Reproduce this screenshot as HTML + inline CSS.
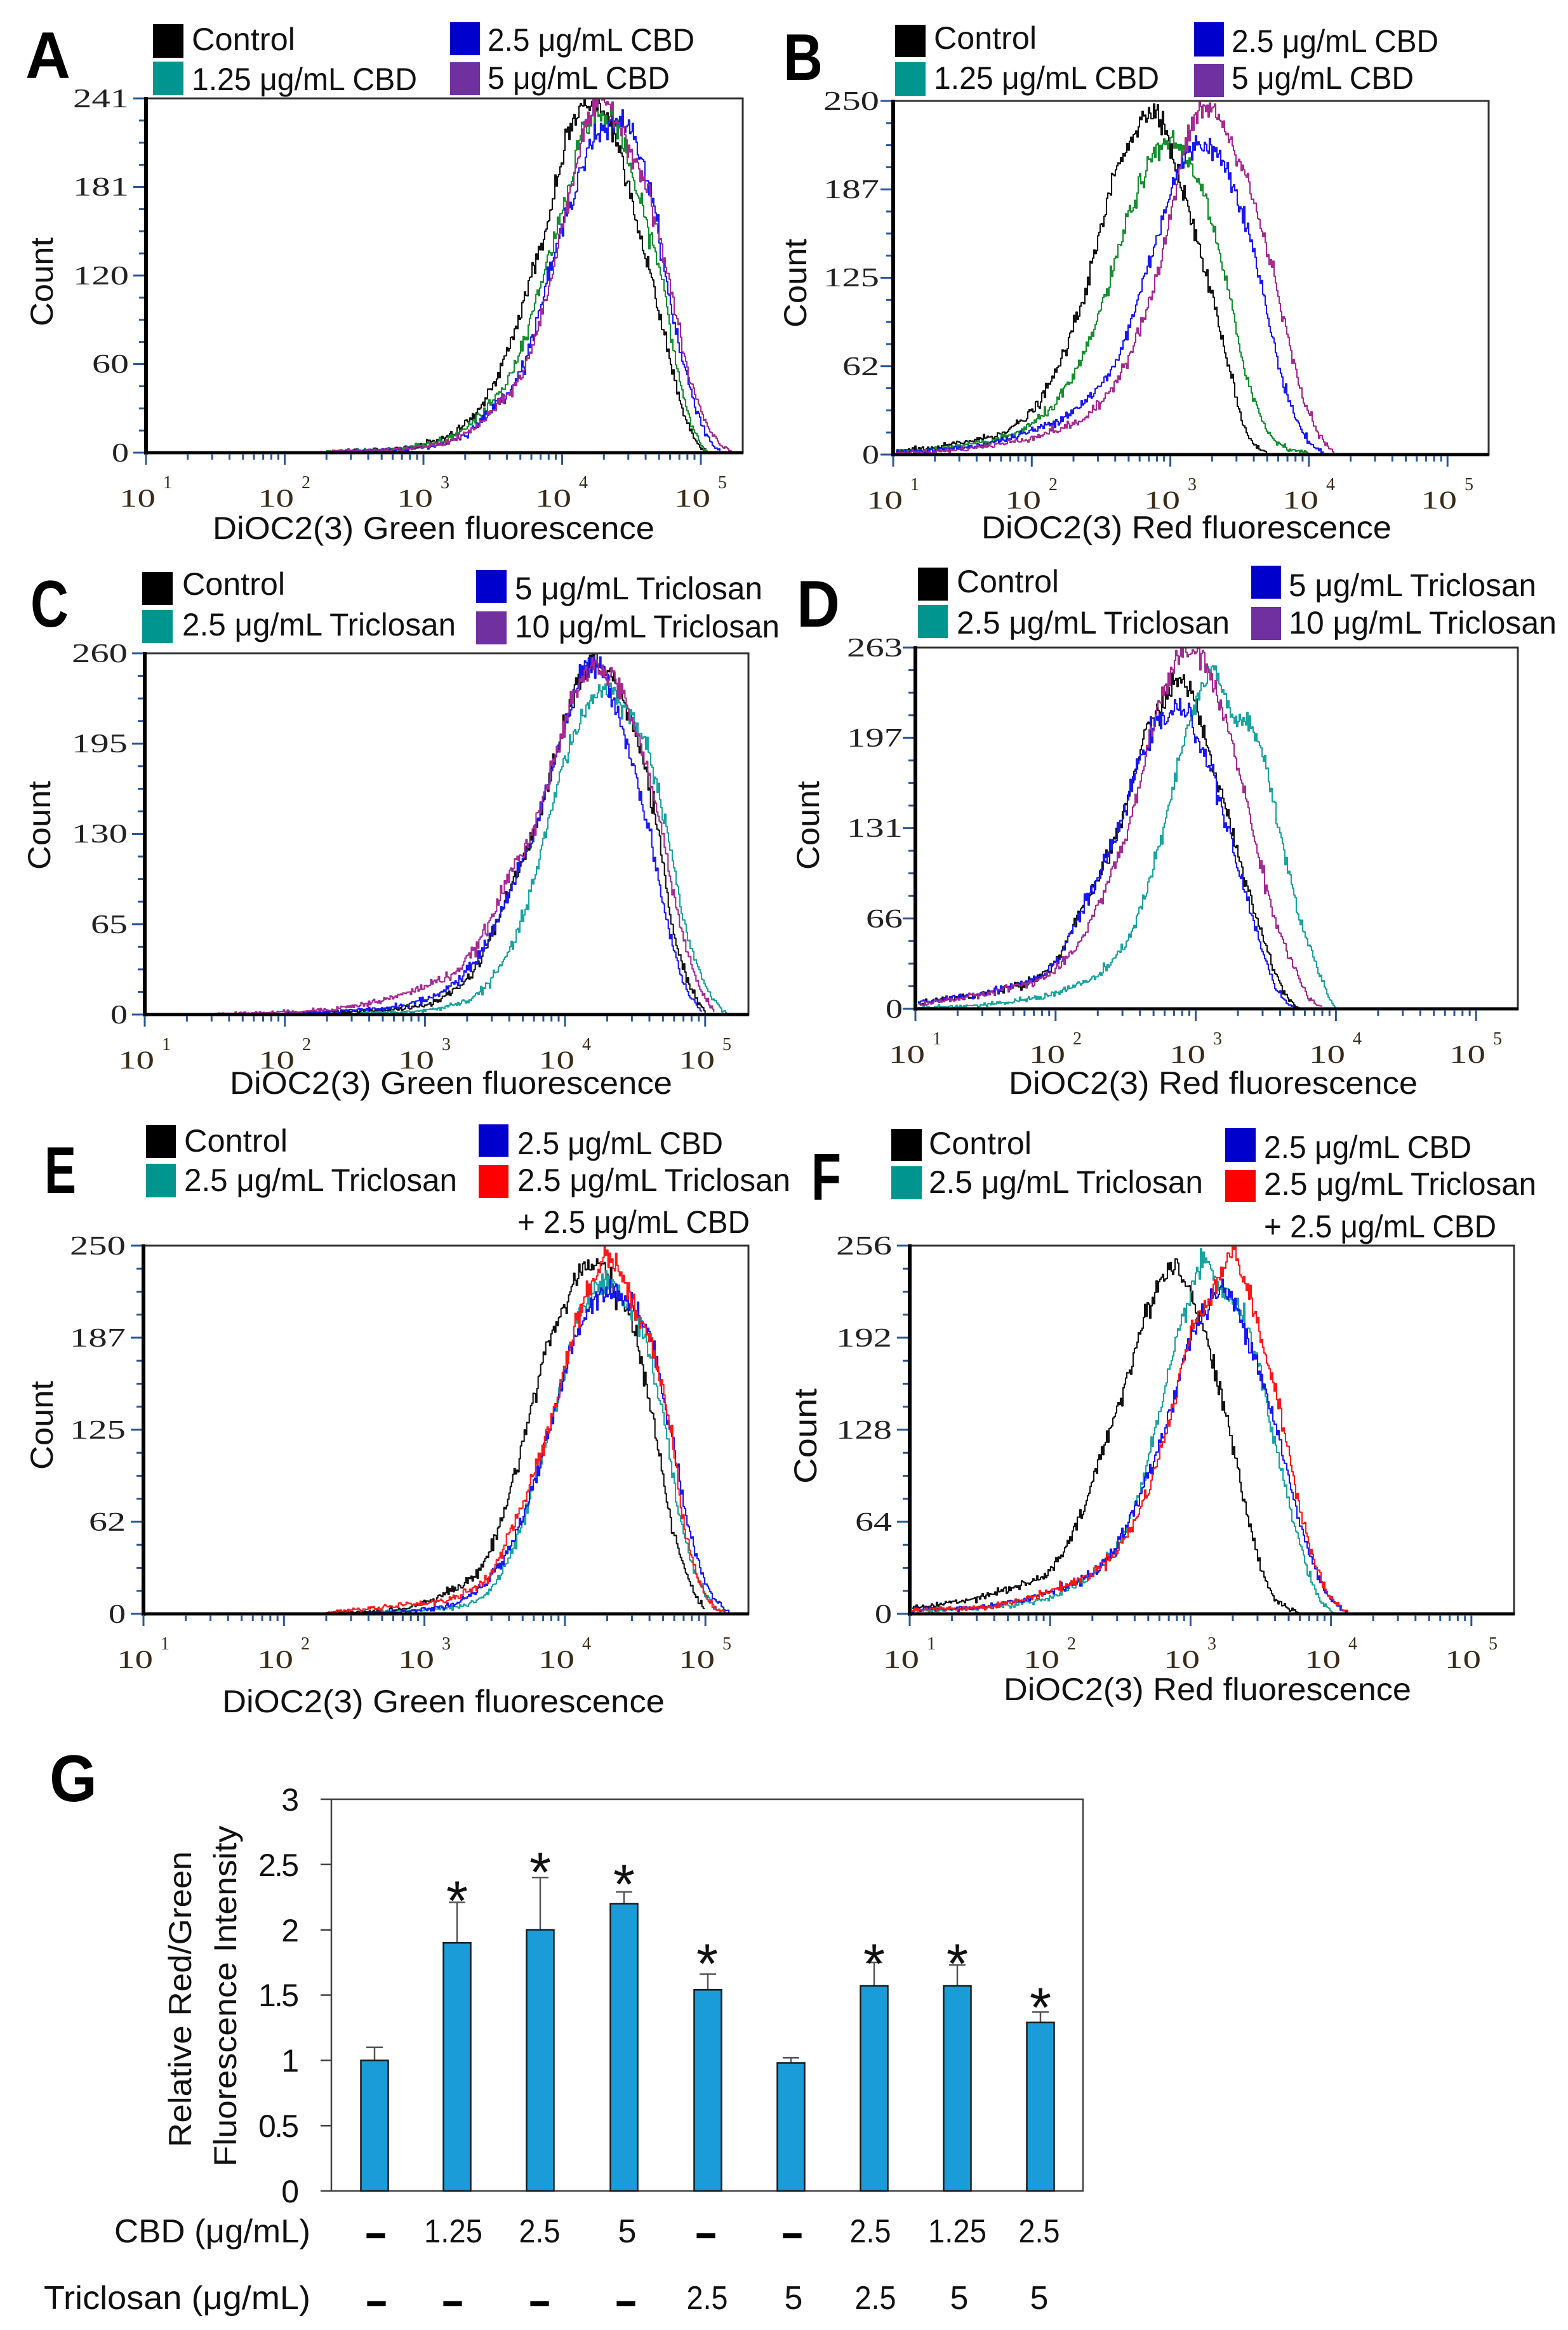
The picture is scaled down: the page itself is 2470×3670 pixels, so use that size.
<!DOCTYPE html>
<html><head><meta charset="utf-8"><style>
html,body{margin:0;padding:0;background:#fff;}
svg{display:block;}
.lg{font-family:"Liberation Sans",sans-serif;font-size:50px;fill:#111;}
.let{font-family:"Liberation Sans",sans-serif;font-size:104px;font-weight:bold;fill:#000;}
.tk{font-family:"Liberation Serif",serif;font-size:42px;fill:#222;}
.xl{font-family:"Liberation Serif",serif;font-size:40px;fill:#3a2a18;}
.sp{font-family:"Liberation Serif",serif;font-size:28px;fill:#3a2a18;}
.gt{font-family:"Liberation Sans",sans-serif;font-size:50px;fill:#111;}
.gv{font-family:"Liberation Sans",sans-serif;font-size:52px;fill:#111;}
.ds{font-family:"Liberation Sans",sans-serif;font-size:54px;font-weight:bold;fill:#000;stroke:#000;stroke-width:2.5;}
.st{font-family:"Liberation Sans",sans-serif;font-size:88px;fill:#111;}
</style></head><body>
<svg id="fig" xmlns="http://www.w3.org/2000/svg" width="2470" height="3670" viewBox="0 0 2470 3670">
<rect x="0" y="0" width="2470" height="3670" fill="#fff"/>
<g id="plots"></g>

<!-- Panel letters -->
<text class="let" x="40" y="123" textLength="71" lengthAdjust="spacingAndGlyphs">A</text>
<text class="let" x="1234" y="126" textLength="62" lengthAdjust="spacingAndGlyphs">B</text>
<text class="let" x="48" y="987" textLength="60" lengthAdjust="spacingAndGlyphs">C</text>
<text class="let" x="1255" y="987" textLength="68" lengthAdjust="spacingAndGlyphs">D</text>
<text class="let" x="70" y="1879" textLength="50" lengthAdjust="spacingAndGlyphs">E</text>
<text class="let" x="1278" y="1890" textLength="47" lengthAdjust="spacingAndGlyphs">F</text>
<text class="let" x="78" y="2837" textLength="75" lengthAdjust="spacingAndGlyphs">G</text>

<!-- Legends A -->
<rect x="241" y="38" width="48" height="53" fill="#000"/>
<rect x="241" y="97" width="48" height="53" fill="#00968f"/>
<rect x="709" y="35" width="47" height="52" fill="#0000cc"/>
<rect x="709" y="98" width="47" height="52" fill="#7030a0"/>
<text class="lg" x="302" y="79" textLength="163" lengthAdjust="spacingAndGlyphs">Control</text>
<text class="lg" x="302" y="142" textLength="355" lengthAdjust="spacingAndGlyphs">1.25 μg/mL CBD</text>
<text class="lg" x="768" y="80" textLength="326" lengthAdjust="spacingAndGlyphs">2.5 μg/mL CBD</text>
<text class="lg" x="768" y="140" textLength="287" lengthAdjust="spacingAndGlyphs">5 μg/mL CBD</text>

<!-- Legends B -->
<rect x="1410" y="39" width="48" height="51" fill="#000"/>
<rect x="1410" y="98" width="48" height="53" fill="#00968f"/>
<rect x="1881" y="35" width="47" height="54" fill="#0000cc"/>
<rect x="1881" y="101" width="47" height="52" fill="#7030a0"/>
<text class="lg" x="1471" y="77" textLength="162" lengthAdjust="spacingAndGlyphs">Control</text>
<text class="lg" x="1471" y="140" textLength="355" lengthAdjust="spacingAndGlyphs">1.25 μg/mL CBD</text>
<text class="lg" x="1940" y="82" textLength="326" lengthAdjust="spacingAndGlyphs">2.5 μg/mL CBD</text>
<text class="lg" x="1940" y="140" textLength="287" lengthAdjust="spacingAndGlyphs">5 μg/mL CBD</text>

<!-- Legends C -->
<rect x="224" y="901" width="48" height="52" fill="#000"/>
<rect x="224" y="961" width="48" height="52" fill="#00968f"/>
<rect x="750" y="898" width="48" height="52" fill="#0000cc"/>
<rect x="750" y="963" width="48" height="52" fill="#7030a0"/>
<text class="lg" x="287" y="937" textLength="162" lengthAdjust="spacingAndGlyphs">Control</text>
<text class="lg" x="287" y="1001" textLength="431" lengthAdjust="spacingAndGlyphs">2.5 μg/mL Triclosan</text>
<text class="lg" x="811" y="944" textLength="390" lengthAdjust="spacingAndGlyphs">5 μg/mL Triclosan</text>
<text class="lg" x="811" y="1004" textLength="417" lengthAdjust="spacingAndGlyphs">10 μg/mL Triclosan</text>

<!-- Legends D -->
<rect x="1446" y="894" width="47" height="52" fill="#000"/>
<rect x="1446" y="953" width="47" height="52" fill="#00968f"/>
<rect x="1971" y="891" width="47" height="52" fill="#0000cc"/>
<rect x="1971" y="956" width="47" height="52" fill="#7030a0"/>
<text class="lg" x="1507" y="933" textLength="161" lengthAdjust="spacingAndGlyphs">Control</text>
<text class="lg" x="1507" y="998" textLength="430" lengthAdjust="spacingAndGlyphs">2.5 μg/mL Triclosan</text>
<text class="lg" x="2030" y="939" textLength="390" lengthAdjust="spacingAndGlyphs">5 μg/mL Triclosan</text>
<text class="lg" x="2030" y="998" textLength="422" lengthAdjust="spacingAndGlyphs">10 μg/mL Triclosan</text>

<!-- Legends E -->
<rect x="230" y="1772" width="47" height="52" fill="#000"/>
<rect x="230" y="1833" width="47" height="53" fill="#00968f"/>
<rect x="754" y="1771" width="47" height="51" fill="#0000cc"/>
<rect x="754" y="1835" width="47" height="52" fill="#ff0000"/>
<text class="lg" x="290" y="1814" textLength="163" lengthAdjust="spacingAndGlyphs">Control</text>
<text class="lg" x="290" y="1876" textLength="430" lengthAdjust="spacingAndGlyphs">2.5 μg/mL Triclosan</text>
<text class="lg" x="815" y="1818" textLength="324" lengthAdjust="spacingAndGlyphs">2.5 μg/mL CBD</text>
<text class="lg" x="815" y="1876" textLength="430" lengthAdjust="spacingAndGlyphs">2.5 μg/mL Triclosan</text>
<text class="lg" x="815" y="1942" textLength="366" lengthAdjust="spacingAndGlyphs">+ 2.5 μg/mL CBD</text>

<!-- Legends F -->
<rect x="1404" y="1778" width="48" height="51" fill="#000"/>
<rect x="1404" y="1837" width="48" height="52" fill="#00968f"/>
<rect x="1930" y="1777" width="48" height="53" fill="#0000cc"/>
<rect x="1930" y="1843" width="48" height="50" fill="#ff0000"/>
<text class="lg" x="1463" y="1818" textLength="162" lengthAdjust="spacingAndGlyphs">Control</text>
<text class="lg" x="1463" y="1879" textLength="432" lengthAdjust="spacingAndGlyphs">2.5 μg/mL Triclosan</text>
<text class="lg" x="1991" y="1824" textLength="327" lengthAdjust="spacingAndGlyphs">2.5 μg/mL CBD</text>
<text class="lg" x="1991" y="1882" textLength="429" lengthAdjust="spacingAndGlyphs">2.5 μg/mL Triclosan</text>
<text class="lg" x="1991" y="1949" textLength="366" lengthAdjust="spacingAndGlyphs">+ 2.5 μg/mL CBD</text>

<!-- Y tick labels -->
<g class="tk" text-anchor="end">
<text x="203" y="169" textLength="88" lengthAdjust="spacingAndGlyphs">241</text><text x="203" y="308" textLength="88" lengthAdjust="spacingAndGlyphs">181</text><text x="203" y="448" textLength="88" lengthAdjust="spacingAndGlyphs">120</text><text x="203" y="587" textLength="58" lengthAdjust="spacingAndGlyphs">60</text><text x="203" y="727" textLength="27" lengthAdjust="spacingAndGlyphs">0</text>
<text x="1385" y="173" textLength="88" lengthAdjust="spacingAndGlyphs">250</text><text x="1385" y="312" textLength="88" lengthAdjust="spacingAndGlyphs">187</text><text x="1385" y="451" textLength="88" lengthAdjust="spacingAndGlyphs">125</text><text x="1385" y="591" textLength="58" lengthAdjust="spacingAndGlyphs">62</text><text x="1385" y="730" textLength="27" lengthAdjust="spacingAndGlyphs">0</text>
<text x="201" y="1043" textLength="88" lengthAdjust="spacingAndGlyphs">260</text><text x="201" y="1185" textLength="88" lengthAdjust="spacingAndGlyphs">195</text><text x="201" y="1327" textLength="88" lengthAdjust="spacingAndGlyphs">130</text><text x="201" y="1470" textLength="58" lengthAdjust="spacingAndGlyphs">65</text><text x="201" y="1612" textLength="27" lengthAdjust="spacingAndGlyphs">0</text>
<text x="1422" y="1034" textLength="88" lengthAdjust="spacingAndGlyphs">263</text><text x="1422" y="1176" textLength="88" lengthAdjust="spacingAndGlyphs">197</text><text x="1422" y="1318" textLength="88" lengthAdjust="spacingAndGlyphs">131</text><text x="1422" y="1461" textLength="58" lengthAdjust="spacingAndGlyphs">66</text><text x="1422" y="1603" textLength="27" lengthAdjust="spacingAndGlyphs">0</text>
<text x="198" y="1976" textLength="88" lengthAdjust="spacingAndGlyphs">250</text><text x="198" y="2121" textLength="88" lengthAdjust="spacingAndGlyphs">187</text><text x="198" y="2266" textLength="88" lengthAdjust="spacingAndGlyphs">125</text><text x="198" y="2411" textLength="58" lengthAdjust="spacingAndGlyphs">62</text><text x="198" y="2556" textLength="27" lengthAdjust="spacingAndGlyphs">0</text>
<text x="1405" y="1976" textLength="88" lengthAdjust="spacingAndGlyphs">256</text><text x="1405" y="2121" textLength="88" lengthAdjust="spacingAndGlyphs">192</text><text x="1405" y="2266" textLength="88" lengthAdjust="spacingAndGlyphs">128</text><text x="1405" y="2411" textLength="58" lengthAdjust="spacingAndGlyphs">64</text><text x="1405" y="2556" textLength="27" lengthAdjust="spacingAndGlyphs">0</text>
</g>

<!-- X tick labels -->
<g>
<text class="xl" x="188" y="798" textLength="57" lengthAdjust="spacingAndGlyphs">10</text><text class="sp" x="257" y="769">1</text>
<text class="xl" x="406" y="798" textLength="57" lengthAdjust="spacingAndGlyphs">10</text><text class="sp" x="475" y="769">2</text>
<text class="xl" x="625" y="798" textLength="57" lengthAdjust="spacingAndGlyphs">10</text><text class="sp" x="694" y="769">3</text>
<text class="xl" x="843" y="798" textLength="57" lengthAdjust="spacingAndGlyphs">10</text><text class="sp" x="912" y="769">4</text>
<text class="xl" x="1062" y="798" textLength="57" lengthAdjust="spacingAndGlyphs">10</text><text class="sp" x="1131" y="769">5</text>

<text class="xl" x="1365" y="801" textLength="57" lengthAdjust="spacingAndGlyphs">10</text><text class="sp" x="1434" y="772">1</text>
<text class="xl" x="1583" y="801" textLength="57" lengthAdjust="spacingAndGlyphs">10</text><text class="sp" x="1652" y="772">2</text>
<text class="xl" x="1802" y="801" textLength="57" lengthAdjust="spacingAndGlyphs">10</text><text class="sp" x="1871" y="772">3</text>
<text class="xl" x="2020" y="801" textLength="57" lengthAdjust="spacingAndGlyphs">10</text><text class="sp" x="2089" y="772">4</text>
<text class="xl" x="2238" y="801" textLength="57" lengthAdjust="spacingAndGlyphs">10</text><text class="sp" x="2307" y="772">5</text>

<text class="xl" x="186" y="1683" textLength="57" lengthAdjust="spacingAndGlyphs">10</text><text class="sp" x="255" y="1654">1</text>
<text class="xl" x="407" y="1683" textLength="57" lengthAdjust="spacingAndGlyphs">10</text><text class="sp" x="476" y="1654">2</text>
<text class="xl" x="627" y="1683" textLength="57" lengthAdjust="spacingAndGlyphs">10</text><text class="sp" x="696" y="1654">3</text>
<text class="xl" x="848" y="1683" textLength="57" lengthAdjust="spacingAndGlyphs">10</text><text class="sp" x="917" y="1654">4</text>
<text class="xl" x="1069" y="1683" textLength="57" lengthAdjust="spacingAndGlyphs">10</text><text class="sp" x="1138" y="1654">5</text>

<text class="xl" x="1400" y="1674" textLength="57" lengthAdjust="spacingAndGlyphs">10</text><text class="sp" x="1469" y="1645">1</text>
<text class="xl" x="1621" y="1674" textLength="57" lengthAdjust="spacingAndGlyphs">10</text><text class="sp" x="1690" y="1645">2</text>
<text class="xl" x="1842" y="1674" textLength="57" lengthAdjust="spacingAndGlyphs">10</text><text class="sp" x="1911" y="1645">3</text>
<text class="xl" x="2062" y="1674" textLength="57" lengthAdjust="spacingAndGlyphs">10</text><text class="sp" x="2131" y="1645">4</text>
<text class="xl" x="2283" y="1674" textLength="57" lengthAdjust="spacingAndGlyphs">10</text><text class="sp" x="2352" y="1645">5</text>

<text class="xl" x="184" y="2627" textLength="57" lengthAdjust="spacingAndGlyphs">10</text><text class="sp" x="253" y="2598">1</text>
<text class="xl" x="405" y="2627" textLength="57" lengthAdjust="spacingAndGlyphs">10</text><text class="sp" x="474" y="2598">2</text>
<text class="xl" x="627" y="2627" textLength="57" lengthAdjust="spacingAndGlyphs">10</text><text class="sp" x="696" y="2598">3</text>
<text class="xl" x="848" y="2627" textLength="57" lengthAdjust="spacingAndGlyphs">10</text><text class="sp" x="917" y="2598">4</text>
<text class="xl" x="1069" y="2627" textLength="57" lengthAdjust="spacingAndGlyphs">10</text><text class="sp" x="1138" y="2598">5</text>

<text class="xl" x="1391" y="2627" textLength="57" lengthAdjust="spacingAndGlyphs">10</text><text class="sp" x="1460" y="2598">1</text>
<text class="xl" x="1612" y="2627" textLength="57" lengthAdjust="spacingAndGlyphs">10</text><text class="sp" x="1681" y="2598">2</text>
<text class="xl" x="1833" y="2627" textLength="57" lengthAdjust="spacingAndGlyphs">10</text><text class="sp" x="1902" y="2598">3</text>
<text class="xl" x="2055" y="2627" textLength="57" lengthAdjust="spacingAndGlyphs">10</text><text class="sp" x="2124" y="2598">4</text>
<text class="xl" x="2276" y="2627" textLength="57" lengthAdjust="spacingAndGlyphs">10</text><text class="sp" x="2345" y="2598">5</text>
</g>

<!-- Count labels -->
<g class="lg" text-anchor="middle">
<text transform="translate(83,444) rotate(-90)" textLength="140" lengthAdjust="spacingAndGlyphs">Count</text>
<text transform="translate(1270,446) rotate(-90)" textLength="140" lengthAdjust="spacingAndGlyphs">Count</text>
<text transform="translate(79,1300) rotate(-90)" textLength="140" lengthAdjust="spacingAndGlyphs">Count</text>
<text transform="translate(1290,1300) rotate(-90)" textLength="140" lengthAdjust="spacingAndGlyphs">Count</text>
<text transform="translate(83,2245) rotate(-90)" textLength="140" lengthAdjust="spacingAndGlyphs">Count</text>
<text transform="translate(1286,2262) rotate(-90)" textLength="150" lengthAdjust="spacingAndGlyphs">Count</text>
</g>

<!-- Axis titles -->
<text class="lg" x="335" y="849" textLength="696" lengthAdjust="spacingAndGlyphs">DiOC2(3) Green fluorescence</text>
<text class="lg" x="1546" y="848" textLength="646" lengthAdjust="spacingAndGlyphs">DiOC2(3) Red fluorescence</text>
<text class="lg" x="362" y="1723" textLength="697" lengthAdjust="spacingAndGlyphs">DiOC2(3) Green fluorescence</text>
<text class="lg" x="1589" y="1723" textLength="644" lengthAdjust="spacingAndGlyphs">DiOC2(3) Red fluorescence</text>
<text class="lg" x="350" y="2697" textLength="697" lengthAdjust="spacingAndGlyphs">DiOC2(3) Green fluorescence</text>
<text class="lg" x="1581" y="2678" textLength="642" lengthAdjust="spacingAndGlyphs">DiOC2(3) Red fluorescence</text>

<!-- Panel G bar chart -->
<g stroke="#404040" stroke-width="2.5" fill="none">
<rect x="522" y="2834" width="1184" height="617"/>
<line x1="505" y1="2834" x2="522" y2="2834"/>
<line x1="505" y1="2936.8" x2="522" y2="2936.8"/>
<line x1="505" y1="3039.7" x2="522" y2="3039.7"/>
<line x1="505" y1="3142.5" x2="522" y2="3142.5"/>
<line x1="505" y1="3245.3" x2="522" y2="3245.3"/>
<line x1="505" y1="3348.2" x2="522" y2="3348.2"/>
<line x1="505" y1="3451" x2="522" y2="3451"/>
</g>
<!-- error bars -->
<g stroke="#555" stroke-width="2.5">
<line x1="590" y1="3245" x2="590" y2="3224.7"/><line x1="577" y1="3224.7" x2="603" y2="3224.7"/>
<line x1="720" y1="3060" x2="720" y2="2996.4"/><line x1="707" y1="2996.4" x2="733" y2="2996.4"/>
<line x1="851" y1="3040" x2="851" y2="2957.3"/><line x1="838" y1="2957.3" x2="864" y2="2957.3"/>
<line x1="983" y1="2998" x2="983" y2="2980"/><line x1="970" y1="2980" x2="996" y2="2980"/>
<line x1="1115" y1="3134" x2="1115" y2="3109.5"/><line x1="1102" y1="3109.5" x2="1128" y2="3109.5"/>
<line x1="1246" y1="3249" x2="1246" y2="3241.2"/><line x1="1233" y1="3241.2" x2="1259" y2="3241.2"/>
<line x1="1377" y1="3128" x2="1377" y2="3091"/><line x1="1364" y1="3091" x2="1390" y2="3091"/>
<line x1="1508" y1="3128" x2="1508" y2="3095.1"/><line x1="1495" y1="3095.1" x2="1521" y2="3095.1"/>
<line x1="1639" y1="3185.6" x2="1639" y2="3169.2"/><line x1="1626" y1="3169.2" x2="1652" y2="3169.2"/>
</g>
<g fill="#1a9cd8" stroke="#1a1a1a" stroke-width="2.5">
<rect x="568.5" y="3245.3" width="43" height="205.7"/>
<rect x="698.5" y="3060.2" width="43" height="390.8"/>
<rect x="829.5" y="3039.6" width="43" height="411.4"/>
<rect x="961.5" y="2998.5" width="43" height="452.5"/>
<rect x="1093.5" y="3134.2" width="43" height="316.8"/>
<rect x="1224.5" y="3249.4" width="43" height="201.6"/>
<rect x="1355.5" y="3128" width="43" height="323"/>
<rect x="1486.5" y="3128" width="43" height="323"/>
<rect x="1617.5" y="3185.6" width="43" height="265.4"/>
</g>
<!-- stars -->
<g class="st" text-anchor="middle">
<text x="720" y="3024">*</text>
<text x="851" y="2979">*</text>
<text x="983" y="2998">*</text>
<text x="1114" y="3123">*</text>
<text x="1377" y="3123">*</text>
<text x="1508" y="3123">*</text>
<text x="1639" y="3192">*</text>
</g>
<!-- y tick labels G -->
<g class="gt" text-anchor="end">
<text x="471" y="2852">3</text>
<text x="471" y="2955" textLength="64">2.5</text>
<text x="471" y="3058">2</text>
<text x="471" y="3160" textLength="64">1.5</text>
<text x="471" y="3263">1</text>
<text x="471" y="3366" textLength="64">0.5</text>
<text x="471" y="3469">0</text>
</g>
<text class="gt" text-anchor="middle" transform="translate(301,3149) rotate(-90)" textLength="466" lengthAdjust="spacingAndGlyphs">Relative Red/Green</text>
<text class="gt" text-anchor="middle" transform="translate(372,3144) rotate(-90)" textLength="537" lengthAdjust="spacingAndGlyphs">Fluorescence Intensity</text>

<text class="gv" text-anchor="end" x="489" y="3532" textLength="309" lengthAdjust="spacingAndGlyphs">CBD (μg/mL)</text>
<text class="gv" text-anchor="end" x="489" y="3637" textLength="420" lengthAdjust="spacingAndGlyphs">Triclosan (μg/mL)</text>
<g class="gv" text-anchor="middle">
<text x="714" y="3532" textLength="92" lengthAdjust="spacingAndGlyphs">1.25</text>
<text x="850" y="3532" textLength="65" lengthAdjust="spacingAndGlyphs">2.5</text>
<text x="988" y="3532">5</text>
<text x="1371" y="3532" textLength="65" lengthAdjust="spacingAndGlyphs">2.5</text>
<text x="1508" y="3532" textLength="92" lengthAdjust="spacingAndGlyphs">1.25</text>
<text x="1637" y="3532" textLength="65" lengthAdjust="spacingAndGlyphs">2.5</text>
<text x="1114" y="3637" textLength="65" lengthAdjust="spacingAndGlyphs">2.5</text>
<text x="1250" y="3637">5</text>
<text x="1379" y="3637" textLength="65" lengthAdjust="spacingAndGlyphs">2.5</text>
<text x="1511" y="3637">5</text>
<text x="1637" y="3637">5</text>
</g>
<g class="ds" text-anchor="middle">
<text x="592" y="3536">–</text>
<text x="1112" y="3536">–</text>
<text x="1248" y="3536">–</text>
<text x="593" y="3643">–</text>
<text x="713" y="3643">–</text>
<text x="850" y="3643">–</text>
<text x="986" y="3643">–</text>
</g>
</svg>
<script>
(function(){
var NS='http://www.w3.org/2000/svg';
var root=document.getElementById('plots');
function el(tag,a,p){var e=document.createElementNS(NS,tag);for(var k in a)e.setAttribute(k,a[k]);(p||root).appendChild(e);return e;}
var seed=987654;
function rnd(){seed=(seed*1103515245+12345)%2147483648;return (seed+0.5)/2147483648;}
function gauss(){var u=rnd(),v=rnd();return Math.sqrt(-2*Math.log(u))*Math.cos(2*Math.PI*v);}
function mono(pts){
 var n=pts.length,xs=pts.map(function(q){return q[0];}),ys=pts.map(function(q){return q[1];});
 var d=[],m=new Array(n),i;
 for(i=0;i<n-1;i++)d.push((ys[i+1]-ys[i])/(xs[i+1]-xs[i]));
 m[0]=d[0];m[n-1]=d[n-2];
 for(i=1;i<n-1;i++)m[i]=(d[i-1]*d[i]<=0)?0:(d[i-1]+d[i])/2;
 for(i=0;i<n-1;i++){
  if(d[i]===0){m[i]=0;m[i+1]=0;continue;}
  var a=m[i]/d[i],b=m[i+1]/d[i],s=a*a+b*b;
  if(s>9){var t=3/Math.sqrt(s);m[i]=t*a*d[i];m[i+1]=t*b*d[i];}
 }
 return function(x){
  if(x<=xs[0])return ys[0];if(x>=xs[n-1])return ys[n-1];
  var j=0;while(x>xs[j+1])j++;
  var h=xs[j+1]-xs[j],t=(x-xs[j])/h,t2=t*t,t3=t2*t;
  return (2*t3-3*t2+1)*ys[j]+(t3-2*t2+t)*h*m[j]+(-2*t3+3*t2)*ys[j+1]+(t3-t2)*h*m[j+1];
 };
}
var K='#111',GR='#14902f',TL='#1aa4a0',BL='#1818f5',PU='#a52a92',RD='#ff1818';
var P=[
{L:230,R:1170,T:155,B:713,dec:218.5,ymax:241,c:[
 [K,[[2.3,0],[2.8,2],[3.0,5],[3.2,12],[3.4,30],[3.57,60],[3.78,120],[3.95,180],[4.02,211],[4.12,234],[4.22,238],[4.3,232],[4.38,215],[4.45,190],[4.52,160],[4.64,120],[4.72,85],[4.78,60],[4.9,20],[5.0,3],[5.04,0]]],
 [GR,[[2.3,0],[2.9,3],[3.2,10],[3.45,30],[3.66,60],[3.86,120],[4.04,180],[4.15,220],[4.25,228],[4.38,224],[4.48,195],[4.58,163],[4.71,120],[4.82,60],[4.92,22],[5.0,5],[5.05,0]]],
 [BL,[[2.4,0],[3.0,3],[3.3,12],[3.5,30],[3.72,60],[3.9,120],[4.09,181],[4.2,210],[4.3,218],[4.45,225],[4.55,205],[4.67,163],[4.74,120],[4.87,60],[5.0,20],[5.08,5],[5.14,0]]],
 [PU,[[2.3,0],[3.0,3],[3.3,12],[3.52,30],[3.74,60],[3.92,120],[4.06,181],[4.18,225],[4.31,238],[4.45,215],[4.6,181],[4.76,120],[4.89,60],[5.03,20],[5.12,6],[5.22,0]]]
]},
{L:1407,R:2345,T:159,B:716,dec:218.3,ymax:250,c:[
 [K,[[1.0,2],[1.3,4],[1.5,8],[1.76,14],[2.01,31],[2.19,62],[2.3,90],[2.41,125],[2.5,160],[2.6,200],[2.74,228],[2.9,245],[3.0,215],[3.06,195],[3.15,165],[3.26,125],[3.42,62],[3.53,19],[3.62,5],[3.71,0]]],
 [GR,[[1.0,1],[1.4,4],[1.87,14],[2.12,31],[2.34,62],[2.45,90],[2.57,125],[2.7,170],[2.85,205],[3.0,222],[3.1,210],[3.22,190],[3.3,160],[3.39,125],[3.53,62],[3.68,19],[3.8,6],[4.0,0]]],
 [BL,[[1.0,1],[1.5,4],[1.94,14],[2.3,31],[2.59,62],[2.7,90],[2.81,125],[2.95,170],[3.05,200],[3.24,220],[3.35,210],[3.44,195],[3.55,160],[3.64,125],[3.78,62],[3.93,19],[4.02,6],[4.11,0]]],
 [PU,[[1.0,0],[1.5,3],[2.09,14],[2.45,31],[2.66,62],[2.78,90],[2.9,125],[3.0,170],[3.1,215],[3.24,245],[3.35,238],[3.45,215],[3.55,195],[3.65,160],[3.75,125],[3.89,62],[4.04,19],[4.12,6],[4.18,0]]]
]},
{L:228,R:1179,T:1029,B:1598,dec:220.7,ymax:260,c:[
 [K,[[2.0,0],[2.6,2],[3.0,6],[3.1,10],[3.36,33],[3.5,64],[3.65,100],[3.77,130],[3.9,175],[4.0,210],[4.1,240],[4.21,252],[4.35,240],[4.45,215],[4.52,195],[4.66,130],[4.76,64],[4.89,20],[5.0,0]]],
 [TL,[[2.5,0],[3.0,2],[3.11,4],[3.36,13],[3.53,33],[3.68,64],[3.86,130],[4.0,185],[4.1,210],[4.2,228],[4.3,235],[4.42,220],[4.57,195],[4.73,130],[4.85,64],[5.0,20],[5.1,4],[5.16,0]]],
 [BL,[[2.0,0],[2.5,2],[2.79,5],[3.07,13],[3.32,33],[3.5,64],[3.65,100],[3.77,130],[3.9,175],[4.05,225],[4.15,250],[4.25,248],[4.35,225],[4.44,195],[4.6,130],[4.73,64],[4.85,20],[4.98,0]]],
 [PU,[[1.5,0],[2.0,1],[2.47,5],[2.82,13],[3.05,22],[3.25,33],[3.45,64],[3.6,100],[3.75,130],[3.9,175],[4.05,225],[4.2,250],[4.35,240],[4.5,205],[4.69,130],[4.82,64],[4.95,20],[5.07,0]]]
]},
{L:1442,R:2391,T:1020,B:1589,dec:220.8,ymax:263,c:[
 [K,[[1.0,3],[1.13,5],[1.6,13],[1.99,33],[2.13,60],[2.3,95],[2.45,131],[2.63,197],[2.75,220],[2.9,240],[2.98,225],[3.06,197],[3.25,131],[3.43,66],[3.59,20],[3.66,6],[3.74,0]]],
 [TL,[[1.0,0],[1.5,2],[1.67,4],[2.06,13],[2.4,33],[2.58,66],[2.77,131],[2.92,197],[3.05,235],[3.12,245],[3.25,215],[3.35,208],[3.49,180],[3.59,131],[3.74,66],[3.9,20],[3.96,5],[4.0,0]]],
 [BL,[[1.0,3],[1.2,6],[1.6,14],[1.99,33],[2.13,60],[2.3,95],[2.45,131],[2.63,190],[2.78,212],[2.9,218],[3.0,200],[3.1,175],[3.22,131],[3.4,66],[3.55,20],[3.63,5],[3.7,0]]],
 [PU,[[1.0,2],[1.6,13],[2.06,33],[2.26,66],[2.4,100],[2.52,131],[2.67,197],[2.8,240],[2.95,260],[3.05,255],[3.15,225],[3.25,197],[3.4,131],[3.56,66],[3.74,20],[3.82,5],[3.9,0]]]
]},
{L:226,R:1179,T:1962,B:2542,dec:221.3,ymax:250,c:[
 [K,[[2.3,0],[2.8,2],[3.11,12],[3.4,31],[3.54,62],[3.72,125],[3.85,175],[4.0,210],[4.1,232],[4.25,235],[4.4,210],[4.5,187],[4.64,125],[4.75,62],[4.89,20],[5.0,0]]],
 [TL,[[2.6,0],[3.0,2],[3.4,10],[3.57,31],[3.7,62],[3.89,125],[4.0,165],[4.1,200],[4.25,225],[4.4,215],[4.57,187],[4.71,125],[4.82,62],[4.96,20],[5.05,5],[5.12,0]]],
 [BL,[[2.6,0],[3.0,2],[3.3,10],[3.52,31],[3.68,62],[3.89,125],[4.0,165],[4.1,195],[4.3,220],[4.45,212],[4.6,187],[4.75,125],[4.87,62],[5.0,20],[5.1,5],[5.17,0]]],
 [RD,[[2.3,0],[2.8,5],[3.25,12],[3.5,31],[3.64,62],[3.88,125],[4.0,170],[4.1,205],[4.22,230],[4.3,245],[4.4,230],[4.5,205],[4.6,187],[4.75,125],[4.84,62],[4.96,20],[5.05,5],[5.14,0]]]
]},
{L:1433,R:2385,T:1962,B:2542,dec:221.2,ymax:256,c:[
 [K,[[1.0,3],[1.17,5],[1.67,16],[2.02,32],[2.2,64],[2.42,128],[2.55,165],[2.63,192],[2.75,225],[2.9,243],[3.0,220],[3.11,192],[3.27,128],[3.41,64],[3.56,16],[3.66,5],[3.77,0]]],
 [TL,[[1.0,1],[1.7,5],[2.13,16],[2.35,32],[2.56,64],[2.75,128],[2.91,192],[3.0,225],[3.11,244],[3.2,228],[3.3,215],[3.43,192],[3.57,128],[3.73,64],[3.88,16],[3.95,5],[4.02,0]]],
 [BL,[[1.0,2],[1.6,5],[2.02,16],[2.35,32],[2.56,64],[2.81,128],[3.0,192],[3.1,210],[3.23,225],[3.32,212],[3.41,192],[3.61,128],[3.77,64],[3.95,16],[4.04,5],[4.12,0]]],
 [RD,[[1.0,2],[1.6,5],[2.02,16],[2.35,32],[2.6,64],[2.83,128],[2.99,192],[3.1,215],[3.2,235],[3.3,252],[3.4,225],[3.5,192],[3.66,128],[3.8,64],[3.96,16],[4.05,5],[4.12,0]]]
]}
];
P.forEach(function(p){
 var H=p.B-p.T;
 p.c.forEach(function(cv){
  var f=mono(cv[1]),u0=cv[1][0][0],u1=cv[1][cv[1].length-1][0];
  var x0=Math.max(p.L+4,p.L+(u0-1)*p.dec),x1=Math.min(p.R-3,p.L+(u1-1)*p.dec);
  var d='',prev=null,x;
  for(x=x0;x<=x1;x+=2){
   var u=1+(x-p.L)/p.dec,v=f(u);
   v+=gauss()*(0.35+0.27*Math.sqrt(Math.max(v,0)));
   if(v<0)v=0;if(v>p.ymax)v=p.ymax;
   var y=p.B-2-v/p.ymax*(H-2);
   if(prev===null)d+='M'+x.toFixed(1)+' '+y.toFixed(1);
   else d+='L'+x.toFixed(1)+' '+prev.toFixed(1)+'L'+x.toFixed(1)+' '+y.toFixed(1);
   prev=y;
  }
  el('path',{d:d,fill:'none',stroke:cv[0],'stroke-width':2.1,'stroke-linejoin':'round'});
 });
 el('rect',{x:p.L,y:p.T,width:p.R-p.L,height:H,fill:'none',stroke:'#333','stroke-width':3});
 el('line',{x1:p.L,y1:p.T-2,x2:p.L,y2:p.B+3,stroke:'#000','stroke-width':6});
 el('line',{x1:p.L-3,y1:p.B,x2:p.R+1,y2:p.B,stroke:'#000','stroke-width':5});
 for(var k=0;k<=16;k++){
  var yy=p.B-k/16*H,len=(k%4===0)?17:8;
  el('line',{x1:p.L-3-len,y1:yy,x2:p.L-3,y2:yy,stroke:'#2b5797','stroke-width':3});
 }
 for(var dd=1;dd<=5;dd++){
  for(var mm=1;mm<=9;mm++){
   var uu=dd+Math.log10(mm),xx=p.L+(uu-1)*p.dec;
   if(xx>p.R-3)continue;
   var l2=(mm===1)?17:9;
   el('line',{x1:xx,y1:p.B+2,x2:xx,y2:p.B+2+l2,stroke:'#2b5797','stroke-width':3});
  }
 }
});
})();
</script>
</body></html>
